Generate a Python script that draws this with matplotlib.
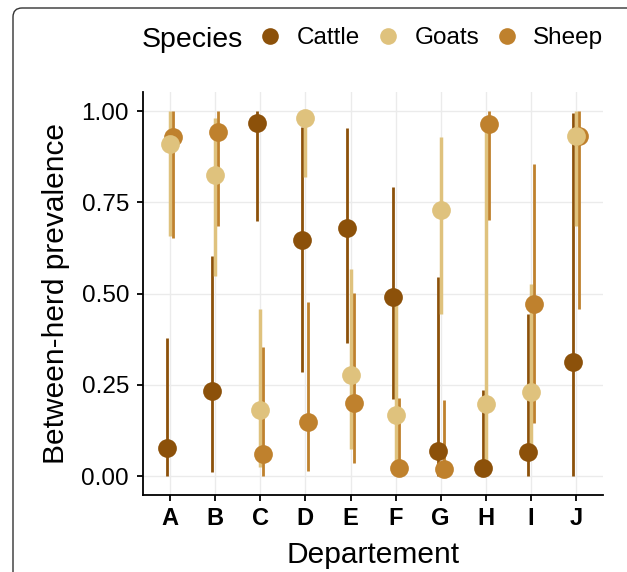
import matplotlib
matplotlib.use("Agg")
import matplotlib.pyplot as plt
from matplotlib.lines import Line2D
from matplotlib.patches import FancyBboxPatch
from matplotlib.transforms import IdentityTransform
import numpy as np

plt.rcParams["font.family"] = ["Liberation Sans", "DejaVu Sans"]

departments = ["A", "B", "C", "D", "E", "F", "G", "H", "I", "J"]
species = ["Cattle", "Goats", "Sheep"]
colors = {"Cattle": "#8c510a", "Goats": "#dfc27d", "Sheep": "#bf812d"}

# point estimate and interval per species, one value per department
cattle_est = [0.077, 0.232, 0.968, 0.648, 0.679, 0.491, 0.069, 0.023, 0.065, 0.313]
cattle_lo = [0.0, 0.010, 0.699, 0.284, 0.365, 0.211, 0.0, 0.0, 0.0, 0.0]
cattle_hi = [0.379, 0.604, 1.0, 0.956, 0.954, 0.792, 0.546, 0.237, 0.445, 0.995]

goats_est = [0.909, 0.824, 0.181, 0.982, 0.276, 0.167, 0.730, 0.196, 0.229, 0.931]
goats_lo = [0.658, 0.547, 0.024, 0.818, 0.073, 0.02, 0.443, 0.0, 0.05, 0.685]
goats_hi = [1.0, 0.98, 0.458, 1.0, 0.567, 0.47, 0.929, 0.98, 0.525, 1.0]

sheep_est = [0.928, 0.942, 0.061, 0.147, 0.201, 0.021, 0.020, 0.964, 0.470, 0.931]
sheep_lo = [0.651, 0.686, 0.0, 0.015, 0.037, 0.0, 0.0, 0.701, 0.144, 0.459]
sheep_hi = [1.0, 1.0, 0.353, 0.476, 0.502, 0.213, 0.208, 1.0, 0.856, 1.0]

est = {"Cattle": cattle_est, "Goats": goats_est, "Sheep": sheep_est}
lo = {"Cattle": cattle_lo, "Goats": goats_lo, "Sheep": sheep_lo}
hi = {"Cattle": cattle_hi, "Goats": goats_hi, "Sheep": sheep_hi}
offset = {"Cattle": -0.067, "Goats": 0.0, "Sheep": 0.067}
lwidth = {"Cattle": 2.0, "Goats": 2.5, "Sheep": 2.0}

fig = plt.figure(figsize=(6.27, 5.72), dpi=100)
ax = fig.add_axes([0.228, 0.1346, 0.734, 0.7044])

x = np.arange(len(departments))

for sp in species:
    ax.vlines(x + offset[sp], lo[sp], hi[sp], color=colors[sp], lw=lwidth[sp], zorder=2)

for sp in ["Cattle", "Sheep", "Goats"]:
    ax.plot(x + offset[sp], est[sp], "o", color=colors[sp], ms=13.5, mec="none", zorder=3)

ax.set_xlim(-0.6, 9.6)
ax.set_ylim(-0.052, 1.052)
ax.set_xticks(x)
ax.set_xticklabels(departments, fontsize=17, fontweight="bold")
ax.set_yticks([0, 0.25, 0.5, 0.75, 1.0])
ax.set_yticklabels(["0.00", "0.25", "0.50", "0.75", "1.00"], fontsize=17.5)
ax.grid(True, color="#ebebeb", lw=1.0)
ax.set_axisbelow(True)
for s in ["top", "right"]:
    ax.spines[s].set_visible(False)
for s in ["left", "bottom"]:
    ax.spines[s].set_linewidth(1.3)
ax.tick_params(axis="both", length=4.5, width=1.3, color="black")
ax.tick_params(axis="x", pad=4)
ax.tick_params(axis="y", pad=5.5)
ax.set_xlabel("Departement", fontsize=21.5, labelpad=8)
ax.set_ylabel("Between-herd prevalence", fontsize=21.5, labelpad=8)

# legend on top, laid out in one row
fig.text(0.226, 0.9187, "Species", fontsize=20.5, va="baseline", ha="left")
mark_x = [0.4306, 0.6188, 0.8086]
text_x = [0.473, 0.662, 0.850]
for sp, mx, tx in zip(species, mark_x, text_x):
    fig.add_artist(Line2D([mx], [0.937], marker="o", ms=12, color=colors[sp],
                          mec="none", transform=fig.transFigure))
    fig.text(tx, 0.9226, sp, fontsize=17.5, va="baseline", ha="left")

# rounded frame around the figure
frame = FancyBboxPatch((13, -30), 700, 572 - 8 + 30,
                       boxstyle="round,pad=0,rounding_size=9",
                       transform=IdentityTransform(), fill=False,
                       ec="#333333", lw=1.0)
fig.add_artist(frame)

fig.savefig("out.png", dpi=100)
